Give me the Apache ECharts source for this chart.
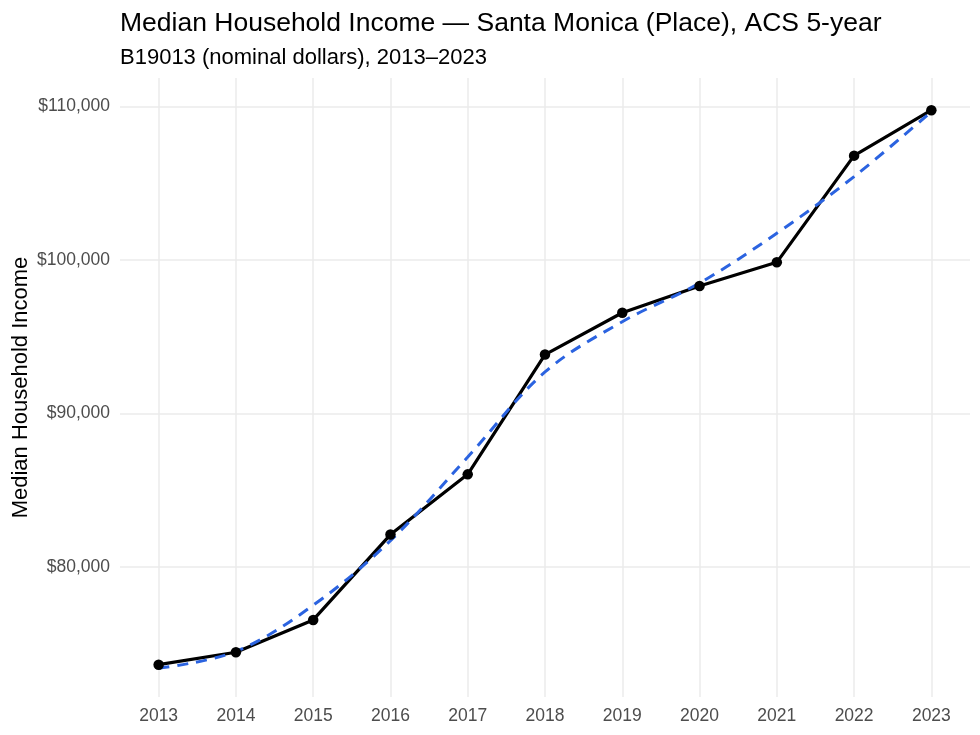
<!DOCTYPE html>
<html>
<head>
    <meta charset="UTF-8">
    <title>Median Household Income — Santa Monica</title>
    <script src="https://cdn.jsdelivr.net/npm/echarts@6/dist/echarts.min.js"></script>
    <style>
        html, body { margin: 0; padding: 0; background: #fff; }
        #chart { width: 980px; height: 735px; }
    </style>
</head>
<body>
<div id="chart"></div>
<script>
    // ACS 5-year B19013, Santa Monica (Place)
    var years = [2013, 2014, 2015, 2016, 2017, 2018, 2019, 2020, 2021, 2022, 2023];
    var income = [73655, 74463, 76567, 82124, 86046, 93844, 96567, 98306, 99850, 106795, 109752];
    // smoothed trend (dashed)
    var trend = [73420, 74520, 77524, 81733, 87173, 92710, 95980, 98502, 101744, 105433, 109661];
    var yTicks = [80000, 90000, 100000, 110000];

    var chart = echarts.init(document.getElementById('chart'));
    var font = 'Liberation Sans, Arial, sans-serif';

    function pairs(vals) {
        return years.map(function (y, i) { return [y, vals[i]]; });
    }
    function money(v) {
        return '$' + v.toString().replace(/\B(?=(\d{3})+(?!\d))/g, ',');
    }

    var option = {
        animation: false,
        backgroundColor: '#fff',
        title: [{
            text: 'Median Household Income — Santa Monica (Place), ACS 5-year',
            left: 115, top: 5,
            textStyle: { fontFamily: font, fontSize: 26.5, fontWeight: 'normal', color: '#000' }
        }, {
            text: 'B19013 (nominal dollars), 2013–2023',
            left: 115, top: 42,
            textStyle: { fontFamily: font, fontSize: 22, fontWeight: 'normal', color: '#000' }
        }],
        grid: { left: 120, right: 10, top: 78, bottom: 38, outerBoundsMode: 'none' },
        xAxis: {
            type: 'value',
            min: 2012.5, max: 2023.5,
            splitNumber: 11,
            axisLine: { show: false },
            axisTick: { show: false },
            axisLabel: {
                fontFamily: font, fontSize: 17.5, color: '#4d4d4d', margin: 10,
                showMinLabel: false, showMaxLabel: false,
                formatter: function (v) { return years.indexOf(v) >= 0 ? String(v) : ''; }
            },
            splitLine: { show: true, showMinLine: false, showMaxLine: false,
                lineStyle: { color: '#ebebeb', width: 1.5 } }
        },
        yAxis: {
            type: 'value',
            min: 71550, max: 111850,
            splitNumber: 4,
            name: 'Median Household Income',
            nameLocation: 'middle',
            nameGap: 88,
            nameMoveOverlap: false,
            nameTextStyle: { fontFamily: font, fontSize: 22, color: '#000' },
            axisLine: { show: false },
            axisTick: { show: false },
            axisLabel: {
                fontFamily: font, fontSize: 17.5, color: '#4d4d4d', margin: 10,
                showMinLabel: false, showMaxLabel: false,
                formatter: function (v) { return yTicks.indexOf(v) >= 0 ? money(v) : ''; }
            },
            splitLine: { show: true, showMinLine: false, showMaxLine: false,
                lineStyle: { color: '#ebebeb', width: 1.5 } }
        },
        series: [{
            name: 'Median Household Income',
            type: 'line',
            data: pairs(income),
            showSymbol: false,
            lineStyle: { color: '#000', width: 3.2 },
            z: 2
        }, {
            name: 'Trend',
            type: 'line',
            data: pairs(trend),
            showSymbol: false,
            smooth: 0.35,
            lineStyle: { color: '#2b63e0', width: 3, type: [11, 8] },
            z: 3
        }, {
            name: 'Points',
            type: 'scatter',
            data: pairs(income),
            symbolSize: 10.5,
            itemStyle: { color: '#000', opacity: 1 },
            z: 4
        }]
    };

    chart.setOption(option);
</script>
</body>
</html>
